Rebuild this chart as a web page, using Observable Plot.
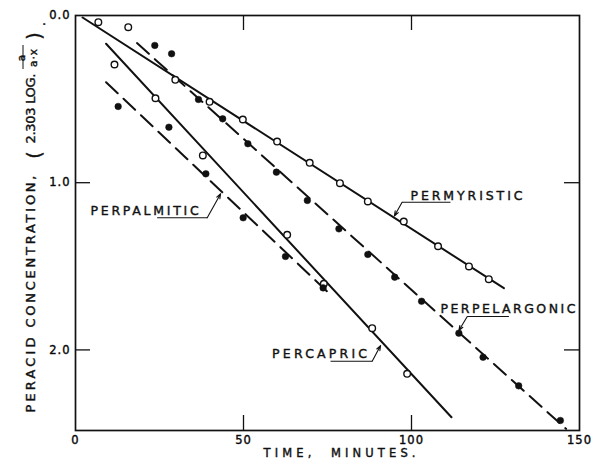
<!DOCTYPE html>
<html><head><meta charset="utf-8">
<script src="https://cdn.jsdelivr.net/npm/d3@7"></script>
<script src="https://cdn.jsdelivr.net/npm/@observablehq/plot@0.6"></script>
<style>
body{margin:0;background:#fff}
#chart svg{font-family:"DejaVu Sans",sans-serif;background:#fff}
#chart svg text{letter-spacing:1px;stroke:#111;stroke-width:0.4px}
</style>
</head><body><div id="chart"></div>
<script>
// ---- data (time in minutes, 2.303 log a/(a-x)) ----
const permyristicTime = [6.8, 15.7, 29.7, 39.9, 49.8, 60.0, 69.7, 78.7, 87.0, 97.7, 107.9, 117.1, 123.0];
const permyristicConc = [0.040, 0.070, 0.385, 0.516, 0.622, 0.754, 0.881, 1.003, 1.112, 1.232, 1.380, 1.501, 1.577];

const perpelargonicTime = [23.6, 28.6, 36.6, 43.8, 51.3, 59.8, 69.0, 78.4, 87.0, 95.0, 103.0, 114.1, 121.3, 131.9, 144.3];
const perpelargonicConc = [0.179, 0.229, 0.502, 0.618, 0.767, 0.937, 1.106, 1.276, 1.429, 1.565, 1.709, 1.900, 2.044, 2.215, 2.422];

const perpalmiticTime = [12.7, 27.8, 38.8, 49.9, 62.5, 73.7];
const perpalmiticConc = [0.544, 0.668, 0.947, 1.210, 1.441, 1.629];

const percapricTime = [11.6, 23.8, 37.9, 63.0, 73.9, 88.3, 98.7];
const percapricConc = [0.293, 0.495, 0.837, 1.312, 1.605, 1.870, 2.143];

// fitted straight lines (end points)
const permyristicFitTime = [2.1, 127.5];
const permyristicFitConc = [0.012, 1.631];
const perpelargonicFitTime = [18.3, 146.0];
const perpelargonicFitConc = [0.165, 2.472];
const perpalmiticFitTime = [9.1, 76.2];
const perpalmiticFitConc = [0.399, 1.675];
const percapricFitTime = [9.1, 111.9];
const percapricFitConc = [0.169, 2.403];

// tick labels
const xTicks = [0, 50, 100, 150];
const xTickLabels = ["0", "50", "100", "150"];
const yTicks = [0, 1, 2];
const yTickLabels = ["0.0", "1.0", "2.0"];

// series names (callouts)
const seriesNames = ["PERMYRISTIC", "PERPALMITIC", "PERPELARGONIC", "PERCAPRIC"];
const labelTime = [99.7, 4.5, 108.6, 58.5];
const labelConc = [1.106, 1.196, 1.782, 2.051];
const underlineT1 = [97.2, 24.3, 116.6, 75.9];
const underlineT2 = [111.6, 39.2, 129.0, 88.3];
const underlineConc = [1.117, 1.210, 1.800, 2.068];
const leaderFromT = [97.2, 39.2, 116.6, 88.3];
const tipTime = [94.9, 43.2, 114.1, 90.8];
const tipConc = [1.199, 1.066, 1.884, 1.974];

// axis titles
const xTitle = "TIME,  MINUTES.";
const yTitleWords = ["PERACID", "CONCENTRATION,", "(", "2.303 LOG.", "a", "a·x", ")", "."];

// ---- build tables ----
const pts = (t, c) => t.map((d, i) => ({t: d, c: c[i]}));
const permyristic = pts(permyristicTime, permyristicConc);
const perpelargonic = pts(perpelargonicTime, perpelargonicConc);
const perpalmitic = pts(perpalmiticTime, perpalmiticConc);
const percapric = pts(percapricTime, percapricConc);
const callouts = seriesNames.map((name, i) => ({
  name, lt: labelTime[i], lc: labelConc[i],
  u1: underlineT1[i], u2: underlineT2[i], uc: underlineConc[i],
  lf: leaderFromT[i], tt: tipTime[i], tc: tipConc[i]
}));

const ink = "#111";
const W = 593, H = 467, ML = 75, MR = 14, MT = 15, MB = 37;
const frameW = W - ML - MR, frameH = H - MT - MB;
const tick = 15;

// layout of the rotated y title pieces: [screen x, screen y, anchor, font size]
const yTitleLayout = [
  [25.5, 412, "start", 13], [25.5, 327, "start", 13], [26.5, 154, "middle", 19],
  [25.5, 143, "start", 13], [17, 57, "middle", 10.5], [29, 57, "middle", 10.5],
  [26.5, 35, "middle", 19], [36, 23, "middle", 12]
];
// rendered lengths (px) of the spaced lettering
const spacedLength = {"PERACID": 75, "CONCENTRATION,": 152, "2.303 LOG.": 70,
  "TIME,  MINUTES.": 152, "PERMYRISTIC": 112, "PERPALMITIC": 108, "PERPELARGONIC": 135, "PERCAPRIC": 95};

const line = (t, c, dashed) => Plot.line(pts(t, c), {x: "t", y: "c", stroke: ink, strokeWidth: 2,
  strokeDasharray: dashed ? "16,8" : null});

const chart = Plot.plot({
  width: W, height: H,
  marginLeft: ML, marginRight: MR, marginTop: MT, marginBottom: MB,
  x: {domain: [0, 150], axis: null},
  y: {domain: [0, 2.482], reverse: true, axis: null},
  marks: [
    Plot.frame({stroke: ink, strokeWidth: 1.7}),
    // inward ticks
    Plot.tickX([50, 100], {x: d => d, stroke: ink, strokeWidth: 1.3, insetBottom: frameH - tick}),
    Plot.tickX([50, 100], {x: d => d, stroke: ink, strokeWidth: 1.3, insetTop: frameH - tick}),
    Plot.tickY([1, 2], {y: d => d, stroke: ink, strokeWidth: 1.3, insetRight: frameW - tick}),
    Plot.tickY([1, 2], {y: d => d, stroke: ink, strokeWidth: 1.3, insetLeft: frameW - tick}),
    // tick labels
    Plot.axisX({ticks: xTicks, tickSize: 0, tickPadding: 5, fontSize: 11.5, label: null,
      tickFormat: d => xTickLabels[xTicks.indexOf(d)]}),
    Plot.axisY({ticks: yTicks, tickSize: 0, tickPadding: 5, fontSize: 11.5, label: null,
      tickFormat: d => yTickLabels[yTicks.indexOf(d)]}),
    // axis titles
    Plot.text([xTitle], {frameAnchor: "bottom", dx: 12, dy: 26, fontSize: 11.5, fill: ink}),
    ...yTitleWords.map((w, i) => {
      const [sx, sy, anchor, fs] = yTitleLayout[i];
      return Plot.text([w], {frameAnchor: "top-left", dx: sx - ML, dy: sy - MT, rotate: -90,
        textAnchor: anchor, fontSize: fs, fill: ink});
    }),
    // fitted lines
    line(permyristicFitTime, permyristicFitConc, false),
    line(percapricFitTime, percapricFitConc, false),
    line(perpelargonicFitTime, perpelargonicFitConc, true),
    line(perpalmiticFitTime, perpalmiticFitConc, true),
    // points
    Plot.dot(permyristic, {x: "t", y: "c", r: 3.3, fill: "white", stroke: ink, strokeWidth: 1.4}),
    Plot.dot(percapric, {x: "t", y: "c", r: 3.3, fill: "white", stroke: ink, strokeWidth: 1.4}),
    Plot.dot(perpelargonic, {x: "t", y: "c", r: 3.3, fill: ink, stroke: ink, strokeWidth: 0.5}),
    Plot.dot(perpalmitic, {x: "t", y: "c", r: 3.3, fill: ink, stroke: ink, strokeWidth: 0.5}),
    // callouts
    Plot.text(callouts, {x: "lt", y: "lc", text: "name", textAnchor: "start", lineAnchor: "bottom",
      fontSize: 12.5, fill: ink}),
    Plot.link(callouts, {x1: "u1", x2: "u2", y1: "uc", y2: "uc", stroke: ink, strokeWidth: 1.1}),
    Plot.arrow(callouts, {x1: "lf", y1: "uc", x2: "tt", y2: "tc", stroke: ink, strokeWidth: 1.1,
      headLength: 7, headAngle: 40})
  ]
});

// spread the stencil-like lettering to its measured length
d3.select(chart).selectAll("text").each(function () {
  const len = spacedLength[this.textContent];
  if (len) d3.select(this).style("letter-spacing", "0px").style("word-spacing", "0px")
    .attr("textLength", len).attr("lengthAdjust", "spacing");
});

// fraction bar of the y-axis title
d3.select(chart).append("line")
  .attr("x1", 23).attr("x2", 23).attr("y1", 45).attr("y2", 69)
  .attr("stroke", ink).attr("stroke-width", 1);

document.getElementById("chart").append(chart);
</script>
</body></html>
